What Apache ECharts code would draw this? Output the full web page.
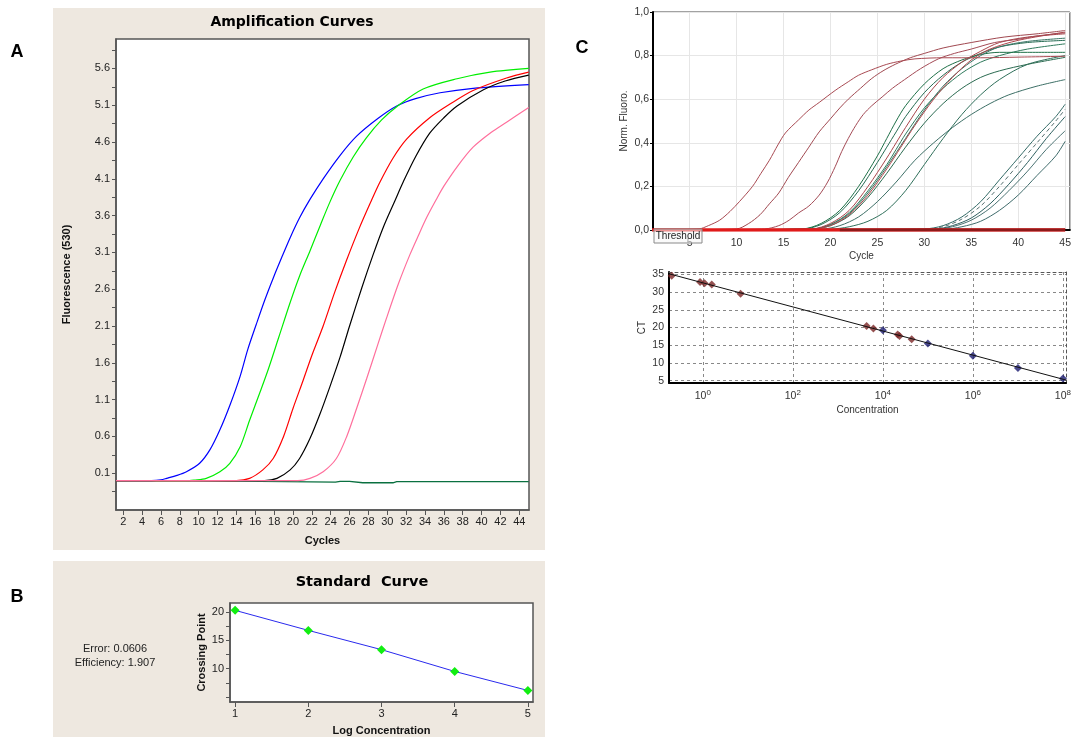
<!DOCTYPE html>
<html>
<head>
<meta charset="utf-8">
<script src="https://cdn.jsdelivr.net/npm/echarts@6/dist/echarts.min.js"></script>
<style>
html,body{margin:0;padding:0;background:#fff;}
#chart{width:1074px;height:737px;}
</style>
</head>
<body>
<div id="chart"></div>
<script>
// ---------- Panel A: amplification curves, fluorescence (530) per cycle ----------
const ampCycleTicks = [2,4,6,8,10,12,14,16,18,20,22,24,26,28,30,32,34,36,38,40,42,44];
const ampFluoTicks = [0.1,0.6,1.1,1.6,2.1,2.6,3.1,3.6,4.1,4.6,5.1,5.6];
const ampFluoMinorTicks = [-0.15,0.1,0.35,0.6,0.85,1.1,1.35,1.6,1.85,2.1,2.35,2.6,2.85,3.1,3.35,3.6,3.85,4.1,4.35,4.6,4.85,5.1,5.35,5.6,5.85];

const ampBlue = [[1.23,0],[5,0],[6,0.01],[6.6,0.03],[7.7,0.07],[8.7,0.12],[10.1,0.235],[11.2,0.42],[12.25,0.69],[13.3,1.02],[14.4,1.42],[15.2,1.78],[16.1,2.12],[17,2.45],[17.9,2.75],[18.8,3.03],[19.7,3.3],[20.7,3.57],[21.8,3.82],[23.2,4.1],[25,4.42],[26.75,4.68],[29,4.92],[31,5.09],[33,5.19],[35.6,5.27],[39.1,5.33],[45,5.38]];
const ampGreen = [[1.23,0],[9,0],[9.5,0.005],[10.8,0.03],[12.25,0.12],[13.3,0.235],[14.4,0.46],[15.4,0.82],[16.5,1.2],[17.4,1.52],[18.5,1.95],[19.7,2.42],[20.7,2.78],[21.8,3.12],[22.9,3.47],[23.9,3.78],[25,4.08],[26.4,4.4],[27.8,4.66],[29.4,4.9],[31,5.08],[33.8,5.32],[37.4,5.46],[40.9,5.55],[45,5.6]];
const ampRed = [[1.23,0],[14,0],[15.4,0.03],[16.8,0.145],[17.9,0.3],[19,0.6],[20,0.98],[21.1,1.37],[22,1.7],[23.2,2.1],[24.4,2.55],[25.7,3.0],[27,3.42],[28.3,3.8],[29.2,4.05],[30.6,4.38],[32.05,4.64],[34.5,4.93],[36.7,5.12],[39.1,5.3],[42.65,5.47],[45,5.55]];
const ampBlack = [[1.23,0],[17,0],[18.3,0.03],[19.7,0.145],[20.7,0.3],[21.8,0.57],[22.85,0.9],[23.9,1.27],[25,1.68],[26,2.1],[27.3,2.62],[28.5,3.07],[29.6,3.45],[30.8,3.8],[31.7,4.06],[33,4.4],[34.5,4.72],[36,4.93],[37.4,5.09],[40.2,5.31],[42.5,5.43],[45,5.51]];
const ampPink = [[1.23,0],[20.5,0],[21.8,0.03],[23.2,0.12],[24.6,0.3],[25.7,0.6],[26.8,1.0],[27.8,1.38],[29,1.85],[29.9,2.2],[31.2,2.68],[32.4,3.07],[33.3,3.33],[34.2,3.58],[35.2,3.82],[36,4.0],[37.5,4.28],[39.1,4.53],[41,4.73],[42.65,4.87],[45,5.07]];
const ampNegative = [[1.23,0.0],[8.6,0.0],[8.8,-0.02],[24.5,-0.02],[25,-0.01],[26,-0.01],[27.4,-0.03],[30.6,-0.03],[31,-0.015],[45,-0.015]];

// ---------- Panel B: standard curve ----------
const stdLogConc = [1,2,3,4,5];
const stdCrossingPoint = [20.3,16.76,13.35,9.5,6.14];
const stdLogTicks = [1,2,3,4,5];
const stdCpTicks = [10,15,20];
const stdCpMinorTicks = [5,7.5,10,12.5,15,17.5,20];

// ---------- Panel C (top): normalised fluorescence per cycle ----------
const cycleTicksC = [5,10,15,20,25,30,35,40,45];
const earlyA = [[1,0],[6,0.005],[7,0.02],[8.2,0.045],[9.3,0.085],[10.3,0.13],[11.7,0.2],[12.6,0.26],[13.5,0.32],[14.4,0.39],[15.2,0.445],[16.6,0.505],[17.7,0.55],[18.8,0.585],[20.5,0.64],[21.9,0.68],[23,0.71],[24.4,0.735],[26,0.76],[27.5,0.775],[29,0.785],[32,0.79],[36,0.79],[40,0.793],[45,0.797]];
const earlyB = [[1,0],[10,0.005],[11.3,0.03],[12.5,0.07],[13.5,0.12],[14.5,0.17],[15.5,0.24],[16.6,0.31],[17.7,0.38],[18.8,0.45],[20,0.51],[21,0.56],[21.9,0.6],[23.2,0.65],[24.4,0.695],[25.6,0.73],[26.9,0.76],[28.5,0.79],[30,0.81],[32,0.835],[35,0.86],[38.5,0.885],[42,0.9],[45,0.915]];
const earlyC = [[1,0],[13,0.005],[14.5,0.02],[15.6,0.045],[16.6,0.078],[17.7,0.11],[18.8,0.16],[19.7,0.22],[20.5,0.29],[21.2,0.36],[21.9,0.42],[22.7,0.48],[23.5,0.53],[24.4,0.57],[25.5,0.61],[26.6,0.65],[27.9,0.69],[29.6,0.74],[31.5,0.785],[33.2,0.81],[35,0.83],[37.5,0.86],[40,0.875],[42,0.89],[45,0.905]];

const midA = [[1,0],[17,0.005],[19,0.03],[21,0.09],[23,0.2],[25,0.34],[26,0.42],[27,0.5],[28,0.57],[30,0.67],[32,0.74],[34,0.78],[36,0.805],[38,0.815],[41,0.815],[45,0.815]];
const midB = [[1,0],[17,0.004],[19,0.025],[21,0.08],[23,0.18],[25,0.31],[26,0.38],[27,0.45],[28,0.52],[30,0.63],[32,0.71],[34,0.77],[36,0.81],[38,0.84],[41,0.86],[45,0.87]];
const midC = [[1,0],[18,0.005],[20,0.03],[22,0.09],[24,0.2],[26,0.33],[27,0.4],[28,0.47],[30,0.6],[32,0.7],[34,0.77],[36,0.82],[38,0.86],[41,0.885],[45,0.9]];
const midD = [[1,0],[18,0.004],[20,0.025],[22,0.08],[24,0.18],[26,0.3],[27,0.37],[28,0.44],[30,0.56],[32,0.65],[34,0.72],[36,0.77],[38,0.8],[41,0.83],[45,0.854]];
const midE = [[1,0],[18,0.004],[20,0.02],[22,0.07],[24,0.16],[26,0.28],[27.5,0.38],[29,0.48],[31,0.6],[33,0.7],[35,0.78],[37,0.83],[40,0.87],[45,0.908]];
const midF = [[1,0],[18,0.004],[20,0.02],[22,0.065],[24,0.15],[26,0.26],[28,0.38],[30,0.49],[32,0.58],[34,0.65],[36,0.7],[38,0.73],[41,0.76],[45,0.792]];
const midG = [[1,0],[19,0.004],[21,0.02],[23,0.06],[25,0.13],[27,0.22],[29,0.32],[31,0.4],[33,0.47],[35,0.53],[37,0.58],[39,0.62],[42,0.66],[45,0.69]];
const midH = [[1,0],[18,0.004],[20,0.025],[22,0.075],[24,0.17],[26,0.29],[28,0.42],[30,0.55],[32,0.66],[34,0.74],[36,0.8],[38,0.84],[41,0.865],[45,0.88]];
const midI = [[1,0],[20,0.004],[22,0.015],[24,0.04],[26,0.09],[28,0.18],[30,0.3],[32,0.42],[34,0.53],[36,0.62],[38,0.69],[41,0.76],[45,0.8]];

const lateA = [[1,0],[30,0.005],[32,0.02],[34,0.06],[36,0.13],[38,0.23],[40,0.33],[42,0.43],[44,0.52],[45,0.577]];
const lateB = [[1,0],[30,0.003],[32,0.015],[34,0.05],[36,0.11],[38,0.2],[40,0.3],[42,0.4],[44,0.5],[45,0.554]];
const lateC = [[1,0],[31,0.003],[33,0.015],[35,0.045],[37,0.1],[39,0.18],[41,0.27],[43,0.37],[45,0.455]];
const lateD = [[1,0],[32,0.003],[34,0.015],[36,0.04],[38,0.09],[40,0.16],[42,0.25],[44,0.34],[45,0.407]];
const lateE = [[1,0],[31,0.004],[33,0.02],[35,0.055],[37,0.12],[39,0.21],[41,0.31],[43,0.42],[45,0.52]];

const negativeAll = [[1,0],[45,0]];
const negativeLate = [[21,0],[45,0]];

// ---------- Panel C (bottom): CT versus log10 concentration ----------
const concExpTicks = [0,2,4,6,8];
const ctTicks = [5,10,15,20,25,30,35];
const sampleLogConc = [-0.69,-0.06,0.04,0.2,0.84,3.64,3.79,4.33,4.37,4.64];
const sampleCt = [34.6,32.8,32.5,32.1,29.5,20.4,19.7,18.0,17.6,16.7];
const standardLogConc = [4,5,6,7,8];
const standardCt = [19.2,15.5,12.0,8.6,5.6];
const fitLogConc = [-0.75,8.07];
const fitCt = [35.15,5.18];

// ---------- rendering ----------
const FONT = '"Liberation Sans", Arial, sans-serif';
const TITLE_FONT = '"DejaVu Sans", "Liberation Sans", sans-serif';
const chart = echarts.init(document.getElementById('chart'));

const zip = (xs, ys) => xs.map((x, i) => [x, ys[i]]);

function curve(data, color, xi, opts) {
  return Object.assign({
    type: 'line', data: data, xAxisIndex: xi, yAxisIndex: xi,
    showSymbol: false, smooth: 0.3, silent: true,
    lineStyle: { color: color, width: 1 }, itemStyle: { color: color }
  }, opts || {});
}

const labelA = { color: '#222', fontSize: 11, fontFamily: FONT };
const labelC = { color: '#333', fontSize: 10.5, fontFamily: FONT };
const boldName = { fontWeight: 'bold', fontSize: 11, color: '#111', fontFamily: FONT };

const option = {
  animation: false,
  backgroundColor: '#ffffff',
  textStyle: { fontFamily: FONT },
  graphic: [
    { type: 'rect', z: -10, shape: { x: 53, y: 8, width: 492, height: 542 }, style: { fill: '#eee8e0' } },
    { type: 'rect', z: -10, shape: { x: 53, y: 561, width: 492, height: 176 }, style: { fill: '#eee8e0' } },
    { type: 'text', x: 17, y: 52, style: { text: 'A', font: 'bold 18px ' + FONT, fill: '#000', align: 'center', verticalAlign: 'middle' } },
    { type: 'text', x: 17, y: 597, style: { text: 'B', font: 'bold 18px ' + FONT, fill: '#000', align: 'center', verticalAlign: 'middle' } },
    { type: 'text', x: 582, y: 48, style: { text: 'C', font: 'bold 18px ' + FONT, fill: '#000', align: 'center', verticalAlign: 'middle' } },
    { type: 'text', x: 292, y: 22, style: { text: 'Amplification Curves', font: 'bold 14px ' + TITLE_FONT, fill: '#000', align: 'center', verticalAlign: 'middle' } },
    { type: 'text', x: 362, y: 582, style: { text: 'Standard  Curve', font: 'bold 14.5px ' + TITLE_FONT, fill: '#000', align: 'center', verticalAlign: 'middle' } },
    { type: 'text', x: 115, y: 649, style: { text: 'Error: 0.0606', font: '11px ' + FONT, fill: '#222', align: 'center', verticalAlign: 'middle' } },
    { type: 'text', x: 115, y: 663, style: { text: 'Efficiency: 1.907', font: '11px ' + FONT, fill: '#222', align: 'center', verticalAlign: 'middle' } },
    { type: 'rect', z: 50, shape: { x: 654, y: 229, width: 48, height: 14 }, style: { fill: 'rgba(246,246,246,0.55)', stroke: '#8a8a8a', lineWidth: 1 } },
    { type: 'text', z: 51, x: 678, y: 236, style: { text: 'Threshold', font: '10px ' + FONT, fill: '#222', align: 'center', verticalAlign: 'middle' } }
  ],
  grid: [
    { left: 116, top: 39, width: 413, height: 471, show: true, backgroundColor: '#fff', borderColor: '#555', borderWidth: 1.5 },
    { left: 230, top: 603, width: 303, height: 99, show: true, backgroundColor: '#fff', borderColor: '#555', borderWidth: 1.5 },
    { left: 653, top: 12, width: 419, height: 218, show: true, backgroundColor: '#fff', borderColor: '#444', borderWidth: 1 },
    { left: 669, top: 272, width: 403, height: 111, show: true, backgroundColor: '#fff', borderColor: 'transparent', borderWidth: 0 }
  ],
  xAxis: [
    { gridIndex: 0, type: 'value', min: 1.23, max: 45.03,
      axisLine: { show: true, onZero: false, lineStyle: { color: '#555', width: 1.5 } },
      axisTick: { show: true, customValues: ampCycleTicks, length: 5, lineStyle: { color: '#555' } },
      axisLabel: Object.assign({ customValues: ampCycleTicks, margin: 6 }, labelA),
      splitLine: { show: false },
      name: 'Cycles', nameLocation: 'middle', nameGap: 25, nameTextStyle: boldName },
    { gridIndex: 1, type: 'value', min: 0.93, max: 5.07,
      axisLine: { show: true, onZero: false, lineStyle: { color: '#555', width: 1.5 } },
      axisTick: { show: true, customValues: stdLogTicks, length: 5, lineStyle: { color: '#555' } },
      axisLabel: Object.assign({ customValues: stdLogTicks, margin: 6 }, labelA),
      splitLine: { show: false },
      name: 'Log Concentration', nameLocation: 'middle', nameGap: 23, nameTextStyle: boldName },
    { gridIndex: 2, type: 'value', min: 1.1, max: 45.5,
      axisLine: { show: true, onZero: false, lineStyle: { color: '#000', width: 2 } },
      axisTick: { show: false, customValues: cycleTicksC },
      axisLabel: Object.assign({ customValues: cycleTicksC, margin: 8 }, labelC),
      splitLine: { show: true, lineStyle: { color: '#e6e6e6', width: 1 } },
      name: 'Cycle', nameLocation: 'middle', nameGap: 21,
      nameTextStyle: { fontSize: 10, color: '#333', fontFamily: FONT } },
    { gridIndex: 3, type: 'value', min: -0.75, max: 8.07,
      axisLine: { show: true, onZero: false, lineStyle: { color: '#000', width: 2 } },
      axisTick: { show: false, customValues: concExpTicks },
      axisLabel: { customValues: concExpTicks, margin: 6, color: '#333', fontSize: 10.5, fontFamily: FONT,
        formatter: v => '10{e|' + v + '}',
        rich: { e: { fontSize: 8, color: '#333', padding: [0, 0, 7, 0], fontFamily: FONT } } },
      splitLine: { show: true, lineStyle: { color: '#888', type: [3, 3], width: 1 } },
      name: 'Concentration', nameLocation: 'middle', nameGap: 22,
      nameTextStyle: { fontSize: 10, color: '#333', fontFamily: FONT } },
    { gridIndex: 3, type: 'value', position: 'top', min: -0.75, max: 8.07,
      axisLine: { show: true, onZero: false, lineStyle: { color: '#555', type: [3, 3], width: 1 } },
      axisTick: { show: false }, axisLabel: { show: false }, splitLine: { show: false } }
  ],
  yAxis: [
    { gridIndex: 0, type: 'value', min: -0.4, max: 6.0,
      axisLine: { show: true, onZero: false, lineStyle: { color: '#555', width: 1.5 } },
      axisTick: { show: true, customValues: ampFluoMinorTicks, length: 4, lineStyle: { color: '#555' } },
      axisLabel: Object.assign({ customValues: ampFluoTicks, margin: 6, formatter: v => v.toFixed(1) }, labelA),
      splitLine: { show: false },
      name: 'Fluorescence (530)', nameLocation: 'middle', nameGap: 44, nameRotate: 90, nameTextStyle: boldName },
    { gridIndex: 1, type: 'value', min: 4.1, max: 21.6,
      axisLine: { show: true, onZero: false, lineStyle: { color: '#555', width: 1.5 } },
      axisTick: { show: true, customValues: stdCpMinorTicks, length: 4, lineStyle: { color: '#555' } },
      axisLabel: Object.assign({ customValues: stdCpTicks, margin: 6 }, labelA),
      splitLine: { show: false },
      name: 'Crossing Point', nameLocation: 'middle', nameGap: 23, nameRotate: 90, nameTextStyle: boldName },
    { gridIndex: 2, type: 'value', min: 0, max: 1.0, interval: 0.2,
      axisLine: { show: true, onZero: false, lineStyle: { color: '#000', width: 2 } },
      axisTick: { show: true, length: 3, lineStyle: { color: '#000' } },
      axisLabel: Object.assign({ margin: 4, formatter: v => v.toFixed(1).replace('.', ',') }, labelC),
      splitLine: { show: true, lineStyle: { color: '#e6e6e6', width: 1 } },
      name: 'Norm. Fluoro.', nameLocation: 'middle', nameGap: 24, nameRotate: 90,
      nameTextStyle: { fontSize: 10, color: '#333', fontFamily: FONT } },
    { gridIndex: 3, type: 'value', min: 4.35, max: 35.65,
      axisLine: { show: true, onZero: false, lineStyle: { color: '#000', width: 2 } },
      axisTick: { show: false, customValues: ctTicks },
      axisLabel: Object.assign({ customValues: ctTicks, margin: 5 }, labelC),
      splitLine: { show: true, lineStyle: { color: '#888', type: [3, 3], width: 1 } },
      name: 'CT', nameLocation: 'middle', nameGap: 22, nameRotate: 90,
      nameTextStyle: { fontSize: 10, color: '#333', fontFamily: FONT } },
    { gridIndex: 3, type: 'value', position: 'right', min: 4.35, max: 35.65,
      axisLine: { show: true, onZero: false, lineStyle: { color: '#555', type: [3, 3], width: 1 } },
      axisTick: { show: false }, axisLabel: { show: false }, splitLine: { show: false } }
  ],
  series: [
    // Panel A
    curve(ampNegative, '#0a7040', 0, { smooth: false, lineStyle: { color: '#0a7040', width: 1.3 } }),
    curve(ampBlue, '#0000ff', 0, { lineStyle: { color: '#0000ff', width: 1.2 } }),
    curve(ampGreen, '#00ee00', 0, { lineStyle: { color: '#00ee00', width: 1.2 } }),
    curve(ampRed, '#ff0000', 0, { lineStyle: { color: '#ff0000', width: 1.2 } }),
    curve(ampBlack, '#000000', 0, { lineStyle: { color: '#000000', width: 1.2 } }),
    curve(ampPink, '#ff6f9c', 0, { lineStyle: { color: '#ff6f9c', width: 1.2 } }),
    // Panel B
    { type: 'line', xAxisIndex: 1, yAxisIndex: 1, data: zip(stdLogConc, stdCrossingPoint), silent: true,
      lineStyle: { color: '#2a2aee', width: 1 }, symbol: 'diamond', symbolSize: 9, showSymbol: true,
      itemStyle: { color: '#11ee11', borderWidth: 0 } },
    // Panel C top
    curve(midI, '#2f6f5a', 2), curve(midG, '#3d6f66', 2), curve(midF, '#2a6a50', 2),
    curve(midD, '#2f7a5c', 2), curve(midB, '#256b52', 2), curve(midA, '#1f7048', 2),
    curve(midH, '#3a7565', 2), curve(midE, '#b0474d', 2), curve(midC, '#a8444a', 2),
    curve(lateD, '#3f6b6b', 2), curve(lateC, '#4a7272', 2), curve(lateE, '#2f6060', 2),
    curve(lateB, '#556f6f', 2, { lineStyle: { color: '#556f6f', width: 1, type: [4, 3] } }),
    curve(lateA, '#336a66', 2),
    curve(earlyC, '#a34a55', 2), curve(earlyB, '#a04850', 2), curve(earlyA, '#a84a52', 2),
    curve(negativeAll, '#e01a1a', 2, { smooth: false, lineStyle: { color: '#e01a1a', width: 3.5 } }),
    curve(negativeLate, '#8e1a1a', 2, { smooth: false, lineStyle: { color: '#8e1a1a', width: 3 } }),
    // Panel C bottom
    { type: 'line', xAxisIndex: 3, yAxisIndex: 3, data: zip(fitLogConc, fitCt), silent: true, showSymbol: false,
      lineStyle: { color: '#111', width: 1 } },
    { type: 'scatter', xAxisIndex: 3, yAxisIndex: 3, data: zip(sampleLogConc, sampleCt), silent: true,
      symbol: 'diamond', symbolSize: 8, itemStyle: { color: '#7a2626' } },
    { type: 'scatter', xAxisIndex: 3, yAxisIndex: 3, data: zip(standardLogConc, standardCt), silent: true,
      symbol: 'diamond', symbolSize: 8, itemStyle: { color: '#1c1c70' } }
  ]
};
chart.setOption(option);
</script>
</body>
</html>
